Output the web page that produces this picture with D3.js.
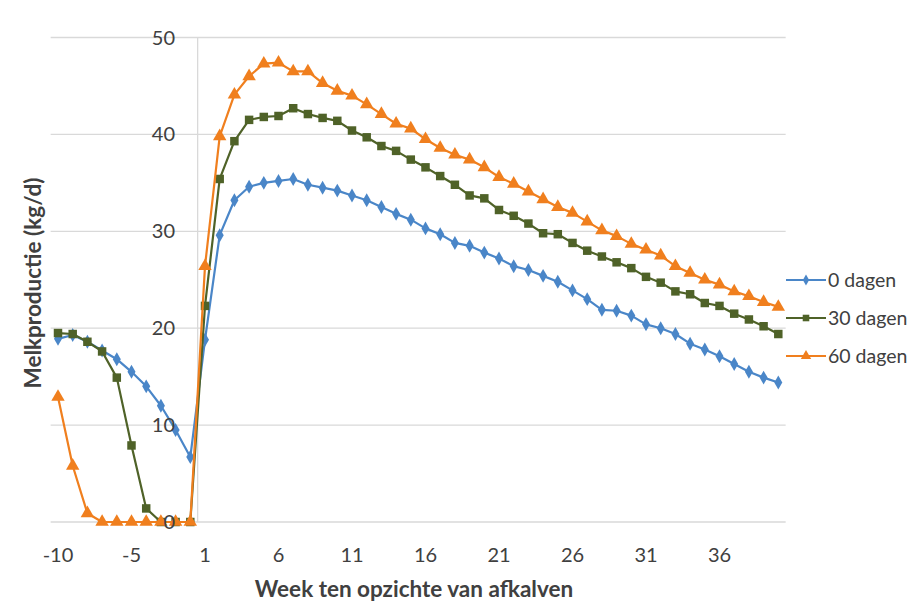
<!DOCTYPE html>
<html><head><meta charset="utf-8">
<script src="https://cdn.jsdelivr.net/npm/d3@7"></script>
<style>
body{margin:0;background:#fff;}
text{font-family:Lato,"Open Sans",sans-serif;fill:#404040;}
</style></head>
<body><svg id="c" width="912" height="605"></svg>
<script>
const weeks = [-10,-9,-8,-7,-6,-5,-4,-3,-2,-1,1,2,3,4,5,6,7,8,9,10,11,12,13,14,15,16,17,18,19,20,21,22,23,24,25,26,27,28,29,30,31,32,33,34,35,36,37,38,39,40];
const dagen0 = [18.9,19.3,18.6,17.7,16.8,15.5,14.0,12.0,9.5,6.7,
  18.8,29.6,33.2,34.6,35.0,35.2,35.4,34.8,34.5,34.2,33.7,33.2,32.5,31.8,31.2,30.3,29.7,28.8,28.5,27.8,
  27.2,26.4,26.0,25.4,24.8,23.9,23.0,21.9,21.8,21.3,20.4,20.0,19.4,18.4,17.8,17.1,16.3,15.5,14.9,14.4];
const dagen30 = [19.5,19.4,18.6,17.6,14.9,7.9,1.4,0,0,0,
  22.3,35.4,39.3,41.5,41.8,41.9,42.7,42.1,41.7,41.4,40.4,39.7,38.8,38.3,37.4,36.6,35.7,34.8,33.7,33.4,
  32.2,31.6,30.8,29.8,29.7,28.8,28.0,27.4,26.8,26.2,25.3,24.7,23.8,23.5,22.6,22.3,21.5,20.9,20.2,19.4];
const dagen60 = [12.9,5.8,0.9,0,0,0,0,0,0,0,
  26.4,39.8,44.1,46.0,47.3,47.4,46.5,46.5,45.3,44.5,44.0,43.1,42.1,41.1,40.6,39.5,38.6,37.9,37.4,36.6,
  35.6,34.9,34.1,33.3,32.5,31.9,31.0,30.1,29.5,28.7,28.1,27.5,26.4,25.7,25.0,24.5,23.8,23.3,22.7,22.2];
const seriesNames = ["0 dagen","30 dagen","60 dagen"];
const yTicks = [0,10,20,30,40,50];
const xTitle = "Week ten opzichte van afkalven";
const yTitle = "Melkproductie (kg/d)";

const svg = d3.select("#c");
const x = d3.scaleBand().domain(weeks).range([50.65,785.65]);
const cx = w => x(w) + x.bandwidth()/2;
const y = d3.scaleLinear().domain([0,50]).range([522,37.5]);

// gridlines
svg.append("g").selectAll("line").data(yTicks.filter(t=>t>0)).join("line")
  .attr("x1",50.65).attr("x2",785.65).attr("y1",d=>y(d)).attr("y2",d=>y(d))
  .attr("stroke","#d9d9d9").attr("stroke-width",1.3);
// x axis line
svg.append("line").attr("x1",50.65).attr("x2",785.65).attr("y1",y(0)).attr("y2",y(0))
  .attr("stroke","#d9d9d9").attr("stroke-width",1.5);
// y axis line (crosses between -1 and 1)
const yAxisX = x(1);
svg.append("line").attr("x1",yAxisX).attr("x2",yAxisX).attr("y1",y(50)).attr("y2",y(0))
  .attr("stroke","#d9d9d9").attr("stroke-width",1.3);

// x tick labels
svg.append("g").selectAll("text").data(weeks.filter((w,i)=>i%5===0)).join("text")
  .attr("x",d=>cx(d)).attr("y",562).attr("text-anchor","middle")
  .attr("font-size",20).text(d=>d);

const cols = ["#4a86c8","#4f6228","#f07f1e"];
const data = [dagen0,dagen30,dagen60];
const line = d3.line().x((d,i)=>cx(weeks[i])).y(d=>y(d));
const sym = [d3.symbolDiamond, d3.symbolSquare, d3.symbolTriangle];
const sizes = [56,72,78];

data.forEach((s,k)=>{
  const g = svg.append("g");
  g.append("path").datum(s).attr("d",line).attr("fill","none")
    .attr("stroke",cols[k]).attr("stroke-width",2.2).attr("stroke-linejoin","round");
  g.selectAll("path.m").data(s).join("path").attr("class","m")
    .attr("transform",(d,i)=>`translate(${cx(weeks[i])},${y(d)})`)
    .attr("d",d3.symbol(sym[k],sizes[k])).attr("fill",cols[k]);
});

// y tick labels (drawn over series, as in the reference)
svg.append("g").selectAll("text").data(yTicks).join("text")
  .attr("x",175).attr("y",d=>y(d)+7).attr("text-anchor","end")
  .attr("font-size",20).text(d=>d);

// legend
const lg = svg.append("g");
seriesNames.forEach((n,k)=>{
  const ly = 280 + k*38;
  lg.append("line").attr("x1",786).attr("x2",826).attr("y1",ly).attr("y2",ly)
    .attr("stroke",cols[k]).attr("stroke-width",2.2);
  lg.append("path").attr("transform",`translate(806,${ly})`)
    .attr("d",d3.symbol(sym[k],sizes[k]*0.6)).attr("fill",cols[k]);
  lg.append("text").attr("x",828).attr("y",ly+7).attr("font-size",19.5).text(n);
});

// titles
svg.append("text").attr("x",414).attr("y",597).attr("text-anchor","middle")
  .attr("font-size",22.5).attr("font-weight","bold").text(xTitle);
svg.append("text").attr("transform","translate(41,283) rotate(-90)").attr("text-anchor","middle")
  .attr("font-size",22.5).attr("font-weight","bold").text(yTitle);
</script></body></html>
